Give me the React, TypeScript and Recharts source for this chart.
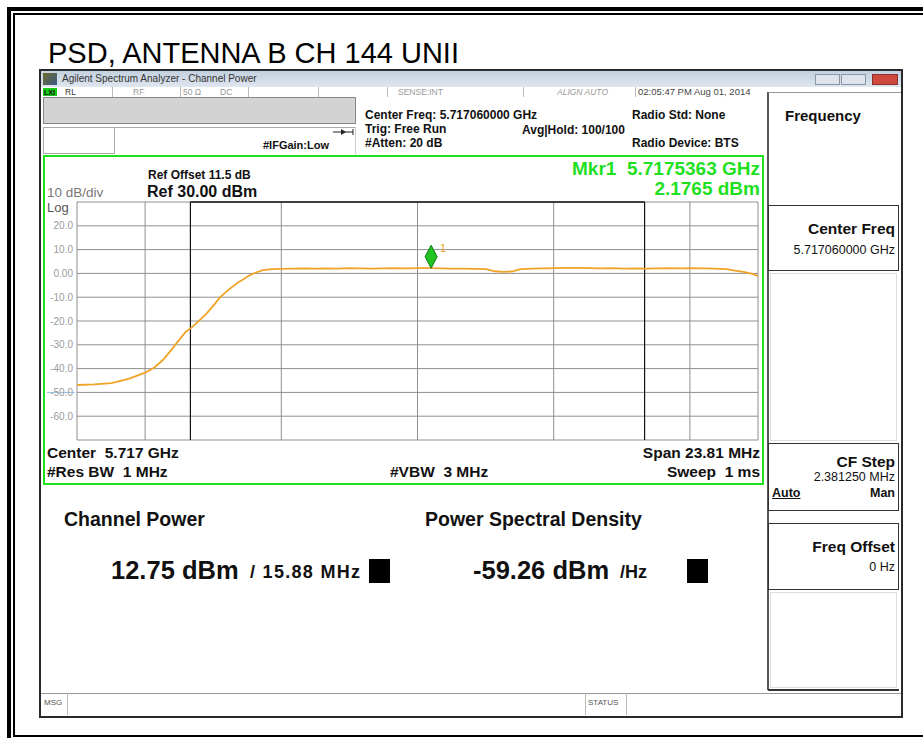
import React from "react";
import {
  LineChart,
  Line,
  XAxis,
  YAxis,
  CartesianGrid,
  ReferenceLine,
  ReferenceDot,
} from "recharts";

// trace: offset from the 5.717060 GHz centre (MHz) and level (dBm)
const freqOffsetMHz = [
  -11.9, -11.3, -10.7, -10.1, -9.5, -9.2, -8.9, -8.6, -8.4, -8.1, -7.9, -7.7,
  -7.4, -7.1, -6.9, -6.6, -6.3, -6.1, -5.9, -5.6, -5.4, -5.1, -4.8, -4.4, -4.0,
  -3.6, -3.2, -2.8, -2.4, -2.0, -1.6, -1.2, -0.8, -0.4, 0.0, 0.48, 0.8, 1.2, 1.6,
  2.0, 2.4, 2.7, 3.0, 3.3, 3.6, 4.0, 4.4, 4.8, 5.2, 5.6, 6.0, 6.4, 6.8, 7.2, 7.6,
  8.0, 8.4, 8.8, 9.2, 9.6, 10.0, 10.4, 10.8, 11.1, 11.4, 11.7, 11.9,
];
const traceDbm = [
  -46.9, -46.6, -46.1, -44.3, -41.6, -39.5, -36.4, -32.0, -29.0, -24.5, -22.8,
  -20.6, -17.2, -13.0, -10.0, -6.8, -4.0, -2.6, -1.0, 0.6, 1.4, 1.8, 1.9, 2.0,
  2.1, 2.0, 2.1, 2.0, 2.2, 2.1, 2.0, 2.1, 2.2, 2.1, 2.2, 2.18, 2.1, 2.0, 2.0,
  1.9, 1.8, 0.9, 0.6, 0.8, 1.8, 2.0, 2.1, 2.2, 2.3, 2.3, 2.2, 2.1, 2.2, 2.0, 2.1,
  2.0, 2.1, 2.2, 2.1, 2.2, 2.1, 2.0, 1.8, 1.2, 0.6, -0.2, -1.0,
];

const yTicks = [30, 20, 10, 0, -10, -20, -30, -40, -50, -60, -70];
const SPAN = 23.81;
const CHANNEL_BW = 15.88;
const MARKER = { f: 0.4763, dbm: 2.1765 };

const gridX = Array.from({ length: 11 }, (_, i) => -SPAN / 2 + (i * SPAN) / 10);
const data = freqOffsetMHz.map((f, i) => ({ f, p: traceDbm[i] }));

const W = 923;
const FONT = '"Liberation Sans", Arial, sans-serif';
const GREEN = "#1fe01f";

function Txt({ x, y, s, w = 700, c = "#111", right = false, extra = {}, children }: any) {
  const style: React.CSSProperties = {
    position: "absolute",
    top: y - 0.49 * s,
    fontSize: s,
    lineHeight: `${s}px`,
    fontWeight: w,
    color: c,
    whiteSpace: "pre",
    ...(right ? { right: W - x } : { left: x }),
    ...extra,
  };
  return <div style={style}>{children}</div>;
}

function Box({ x, y, w, h, style = {} }: any) {
  return (
    <div
      style={{
        position: "absolute",
        left: x,
        top: y,
        width: w,
        height: h,
        boxSizing: "border-box",
        ...style,
      }}
    />
  );
}

const MarkerShape = (props: any) => {
  const { cx, cy } = props;
  if (cx == null || cy == null) return <g />;
  const pts = `${cx},${cy} ${cx + 6},${cy - 11.5} ${cx},${cy - 23} ${cx - 6},${cy - 11.5}`;
  return (
    <g>
      <polygon points={pts} fill="#22c322" stroke="#0d7a0d" strokeWidth={1} />
      <text x={cx + 9} y={cy - 16} fontSize={11} fill="#e8a020" fontFamily={FONT}>
        1
      </text>
    </g>
  );
};

const fmtY = (v: number) => {
  if (v === 30 || v === -70) return "";
  if (v === 0) return "0.00";
  return v.toFixed(1);
};

export default function App() {
  return (
    <div
      style={{
        position: "absolute",
        left: 0,
        top: 0,
        width: W,
        height: 738,
        overflow: "hidden",
        background: "#fff",
        fontFamily: FONT,
      }}
    >
      {/* page frame */}
      <Box x={7} y={7} w={1000} h={1000} style={{ border: "4px solid #000" }} />
      <Box x={13} y={13} w={1000} h={724} style={{ border: "2px solid #000" }} />

      <Txt x={48} y={53} s={29} w={400} c="#000">
        PSD, ANTENNA B CH 144 UNII
      </Txt>

      {/* analyzer window */}
      <Box x={39} y={69} w={864} h={649} style={{ border: "2px solid #2a2a2a", background: "#fff" }} />
      <Box
        x={41}
        y={71}
        w={860}
        h={16}
        style={{ background: "linear-gradient(#c3d0de, #dfe7ef)" }}
      />
      <Box x={43} y={73} w={14} h={12} style={{ background: "linear-gradient(135deg,#6d6a2a,#3d5a8a)" }} />
      <Txt x={62} y={79} s={10} w={400} c="#333">
        Agilent Spectrum Analyzer - Channel Power
      </Txt>
      <Box x={815} y={74} w={25} h={11} style={{ border: "1px solid #8a97a8", background: "#dde4ec" }} />
      <Box x={841} y={74} w={25} h={11} style={{ border: "1px solid #8a97a8", background: "#dde4ec" }} />
      <Box x={872} y={74} w={26} h={11} style={{ border: "1px solid #8a3030", background: "#cf4a3c" }} />

      {/* status row */}
      <Box x={43} y={88} w={14} h={8} style={{ background: "#18c818" }} />
      <Txt x={44} y={92} s={7}>LXI</Txt>
      <Txt x={65} y={92} s={8.5} w={400} c="#333">RL</Txt>
      <Txt x={133} y={92} s={8.5} w={400} c="#999">RF</Txt>
      <Txt x={183} y={92} s={8.5} w={400} c="#999">50 Ω</Txt>
      <Txt x={220} y={92} s={8.5} w={400} c="#999">DC</Txt>
      <Txt x={398} y={92} s={8.5} w={400} c="#999">SENSE:INT</Txt>
      <Txt x={557} y={92} s={8.5} w={400} c="#999" extra={{ fontStyle: "italic" }}>ALIGN AUTO</Txt>
      <Txt x={638} y={92} s={9.5} w={400} c="#444">02:05:47 PM Aug 01, 2014</Txt>
      {[112, 180, 248, 318, 387, 523, 635].map((x) => (
        <Box key={x} x={x} y={87} w={1} h={10} style={{ background: "#bbb" }} />
      ))}

      {/* header */}
      <Box x={43} y={97} w={313} h={27} style={{ border: "1px solid #888", background: "#d3d3d3" }} />
      <Box x={43} y={127} w={72} h={27} style={{ border: "1px solid #aaa" }} />
      <Box x={115} y={127} w={241} h={27} style={{ borderTop: "1px solid #aaa", borderRight: "1px solid #ccc" }} />
      <Txt x={263} y={145} s={11}>#IFGain:Low</Txt>
      <svg style={{ position: "absolute", left: 332, top: 127 }} width={22} height={10}>
        <line x1={1} y1={5} x2={21} y2={5} stroke="#222" strokeWidth={1} />
        <polygon points="9,2 14,5 9,8" fill="#222" />
        <line x1={21} y1={2} x2={21} y2={8} stroke="#222" />
      </svg>
      <Txt x={365} y={115} s={12}>Center Freq: 5.717060000 GHz</Txt>
      <Txt x={365} y={129} s={12}>Trig: Free Run</Txt>
      <Txt x={365} y={143} s={12}>#Atten: 20 dB</Txt>
      <Txt x={522} y={130} s={12}>Avg|Hold: 100/100</Txt>
      <Txt x={632} y={115} s={12}>Radio Std: None</Txt>
      <Txt x={632} y={143} s={12}>Radio Device: BTS</Txt>

      {/* right soft-key panel */}
      <Box x={767} y={92} w={134} h={598} style={{ borderLeft: "2px solid #555", borderTop: "1px solid #999" }} />
      <Txt x={785} y={115} s={15}>Frequency</Txt>
      <Box x={768} y={205} w={131} h={66} style={{ border: "1.5px solid #333" }} />
      <Txt x={895} y={229} s={15.5} right>Center Freq</Txt>
      <Txt x={895} y={250} s={12.5} w={400} right>5.717060000 GHz</Txt>
      <Box x={770} y={273} w={127} h={168} style={{ border: "1px solid #ddd" }} />
      <Box x={768} y={443} w={131} h={68} style={{ border: "1.5px solid #333" }} />
      <Txt x={895} y={462} s={15.5} right>CF Step</Txt>
      <Txt x={895} y={477} s={12.5} w={400} right>2.381250 MHz</Txt>
      <Txt x={772} y={493} s={12.5} extra={{ textDecoration: "underline" }}>Auto</Txt>
      <Txt x={895} y={493} s={12.5} right>Man</Txt>
      <Box x={768} y={523} w={131} h={67} style={{ border: "1.5px solid #333" }} />
      <Txt x={895} y={547} s={15.5} right>Freq Offset</Txt>
      <Txt x={895} y={567} s={12.5} w={400} right>0 Hz</Txt>
      <Box x={770} y={592} w={127} h={96} style={{ border: "1px solid #ddd" }} />
      <Box x={768} y={689} w={131} h={2} style={{ background: "#333" }} />

      {/* bottom message bar */}
      <Box x={41} y={693} w={860} h={22} style={{ borderTop: "1px solid #999" }} />
      <Txt x={44} y={703} s={8} w={400} c="#555">MSG</Txt>
      <Box x={67} y={693} w={1} h={22} style={{ background: "#bbb" }} />
      <Box x={585} y={693} w={1} h={22} style={{ background: "#bbb" }} />
      <Txt x={588} y={703} s={8} w={400} c="#555">STATUS</Txt>
      <Box x={626} y={693} w={1} h={22} style={{ background: "#bbb" }} />

      {/* graticule area */}
      <Box x={43} y={155} w={721} h={330} style={{ border: `2px solid ${GREEN}` }} />
      <Txt x={148} y={175} s={12}>Ref Offset 11.5 dB</Txt>
      <Txt x={147} y={192} s={16}>Ref 30.00 dBm</Txt>
      <Txt x={47} y={193} s={13.5} w={400} c="#777">10 dB/div</Txt>
      <Txt x={47} y={207} s={13} w={400} c="#555">Log</Txt>
      <Box x={47} y={392} w={28} h={1} style={{ background: "#9cc8e8" }} />
      <Txt x={760} y={168} s={19} c={GREEN} right>Mkr1  5.7175363 GHz</Txt>
      <Txt x={760} y={188} s={19} c={GREEN} right>2.1765 dBm</Txt>

      <div style={{ position: "absolute", left: 44, top: 192 }}>
        <LineChart
          width={719}
          height={258}
          data={data}
          margin={{ top: 10, right: 5, bottom: 10, left: 0 }}
        >
          <CartesianGrid stroke="#8f8f8f" strokeWidth={1} />
          <XAxis
            type="number"
            dataKey="f"
            domain={[-SPAN / 2, SPAN / 2]}
            ticks={gridX}
            hide
            allowDataOverflow
          />
          <YAxis
            type="number"
            domain={[-70, 30]}
            ticks={yTicks}
            interval={0}
            width={33}
            tickSize={0}
            tickMargin={4}
            axisLine={false}
            tickLine={false}
            tick={{ fontSize: 10, fill: "#9a9a9a", fontFamily: FONT }}
            tickFormatter={fmtY}
          />
          <ReferenceLine
            segment={[
              { x: -CHANNEL_BW / 2, y: 30 },
              { x: CHANNEL_BW / 2, y: 30 },
            ]}
            stroke="#111"
            strokeWidth={1.5}
          />
          <ReferenceLine x={-CHANNEL_BW / 2} stroke="#111" strokeWidth={1.2} />
          <ReferenceLine x={CHANNEL_BW / 2} stroke="#111" strokeWidth={1.2} />
          <Line
            type="linear"
            dataKey="p"
            stroke="#f0a326"
            strokeWidth={1.8}
            dot={false}
            isAnimationActive={false}
          />
          <ReferenceDot x={MARKER.f} y={MARKER.dbm} shape={MarkerShape} />
        </LineChart>
      </div>

      <Txt x={47} y={453} s={15.5}>Center  5.717 GHz</Txt>
      <Txt x={47} y={472} s={15.5}>#Res BW  1 MHz</Txt>
      <Txt x={390} y={472} s={15.5}>#VBW  3 MHz</Txt>
      <Txt x={760} y={453} s={15.5} right>Span 23.81 MHz</Txt>
      <Txt x={760} y={472} s={15.5} right>Sweep  1 ms</Txt>

      {/* results */}
      <Txt x={64} y={520} s={19.5}>Channel Power</Txt>
      <Txt x={425} y={520} s={19.5}>Power Spectral Density</Txt>
      <Txt x={111} y={570} s={25.5}>12.75 dBm</Txt>
      <Txt x={250} y={572} s={18} extra={{ letterSpacing: "1.3px" }}>/ 15.88 MHz</Txt>
      <Box x={369} y={559} w={21} h={24} style={{ background: "#000" }} />
      <Txt x={473} y={570} s={25.5}>-59.26 dBm</Txt>
      <Txt x={620} y={572} s={18}>/Hz</Txt>
      <Box x={687} y={559} w={21} h={24} style={{ background: "#000" }} />
    </div>
  );
}
